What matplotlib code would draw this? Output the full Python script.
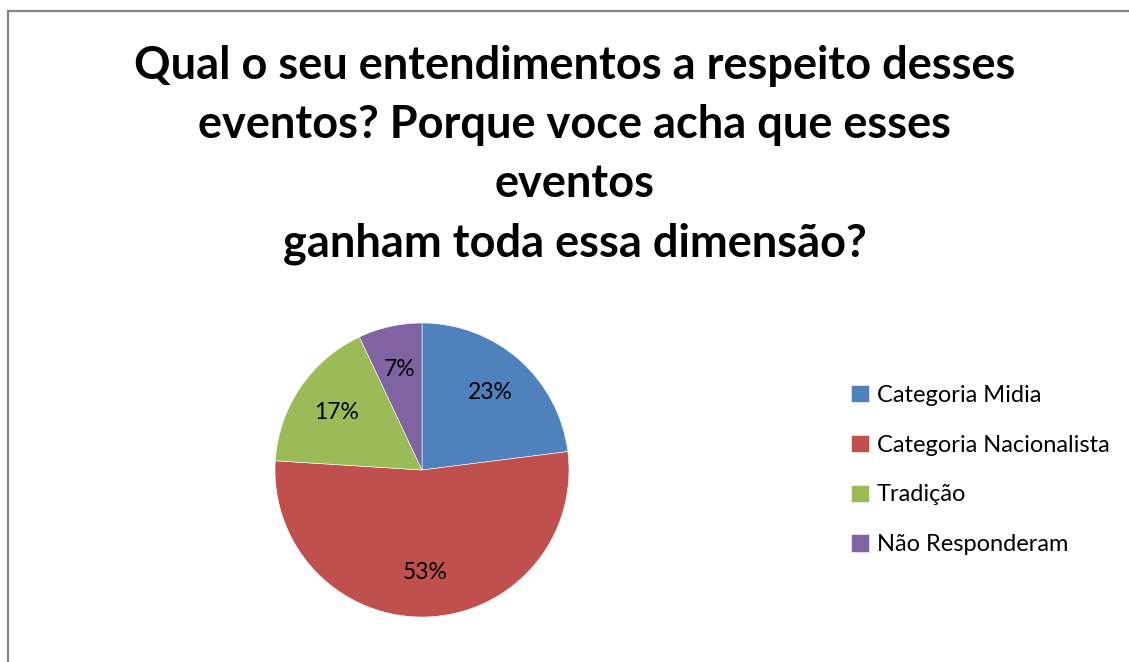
import matplotlib
matplotlib.use("Agg")
import matplotlib.pyplot as plt
from matplotlib.patches import Rectangle

title = ("Qual o seu entendimentos a respeito desses\n"
         "eventos? Porque voce acha que esses\n"
         "eventos\n"
         "ganham toda essa dimensão?")
labels = ["Categoria Midia", "Categoria Nacionalista", "Tradição", "Não Responderam"]
values = [23, 53, 17, 7]
colors = ["#4F81BD", "#C0504D", "#9BBB59", "#8064A2"]

plt.rcParams['font.family'] = ['Lato', 'DejaVu Sans']

fig = plt.figure(figsize=(11.29, 6.62), dpi=100)
fig.patch.set_facecolor("white")

# chart frame (left and top edges visible, rest runs off the image)
fig.patches.append(Rectangle((7.5 / 1129, -0.1), 1.2, 1 - 10.5 / 662 + 0.1,
                             transform=fig.transFigure, fill=False,
                             edgecolor="#868686", linewidth=1.6))

fig.text(575 / 1129, 1 - 155 / 662, title, ha="center", va="center",
         fontsize=32.5, fontweight="bold", linespacing=1.5)

# pie centered at ~(422, 470), radius ~147 px
r = 147
ax = fig.add_axes([(422 - r) / 1129, 1 - (470 + r) / 662, 2 * r / 1129, 2 * r / 662])
wedges, texts, autotexts = ax.pie(values, colors=colors, startangle=90, counterclock=False,
                                  autopct=lambda p: "%d%%" % round(p), pctdistance=0.7,
                                  wedgeprops=dict(edgecolor="white", linewidth=0.4),
                                  textprops=dict(fontsize=16.5, color="black"))
ax.set_xlim(-1, 1)
ax.set_ylim(-1, 1)
ax.set_aspect("equal")

leg = fig.legend(wedges, labels, loc="center left",
                 bbox_to_anchor=(851 / 1129, 1 - 470 / 662),
                 frameon=False, fontsize=17, handlelength=0.75, handleheight=0.75,
                 handletextpad=0.35, labelspacing=1.22, borderpad=0, borderaxespad=0)

fig.savefig("out.png", dpi=100)
